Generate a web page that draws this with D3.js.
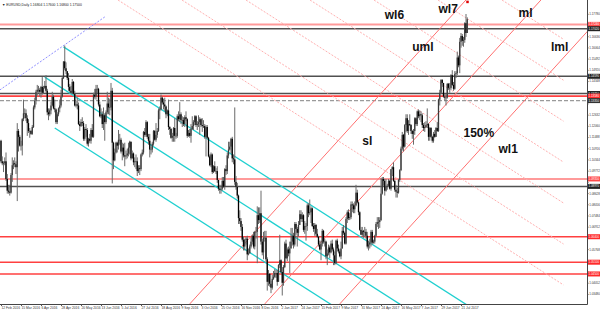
<!DOCTYPE html>
<html>
<head>
<meta charset="utf-8">
<script src="https://cdn.jsdelivr.net/npm/d3@7/dist/d3.min.js"></script>
<style>
body { margin: 0; background: #fff; }
svg { display: block; font-family: "DejaVu Sans", sans-serif; }
</style>
</head>
<body>
<div id="chart"></div>
<script>
// EURUSD daily, prices in pips above 1.0000 (1025 -> 1.1025), open = previous close
var firstOpen = 1130;
var closes = [
  1025,1015,1015,1025,935, 875,870,865,955,1005, 1015,1010,995,1180,1150, 1105,1105,1240,1270,1270,
  1245,1220,1180,1180,1165, 1200,1300,1335,1380,1390, 1390,1380,1405,1375,1400, 1410,1385,1275,1265,1285,
  1310,1355,1295,1290,1225, 1265,1295,1310,1355,1450, 1535,1500,1485,1450,1405, 1385,1375,1430,1370,1310,
  1315,1310,1215,1205,1225, 1220,1140,1190,1185,1115, 1140,1130,1185,1150,1365, 1355,1395,1395,1315,1255,
  1265,1215,1260,1225,1275, 1320,1300,1300,1385,1120, 1030,1070,1120,1105,1135, 1135,1075,1095,1055,1050,
  1055,1065,1095,1125,1040, 1065,1020,1025,1025,975, 990,985,1060,1070,1175, 1160,1225,1150,1130,1085,
  1085,1115,1180,1135,1160, 1180,1285,1290,1350,1325, 1315,1305,1265,1285,1200, 1190,1145,1155,1195,1155,
  1155,1255,1240,1265,1235, 1235,1215,1250,1240,1155, 1170,1155,1190,1205,1225, 1255,1210,1215,1225,1240,
  1210,1205,1205,1150,1200, 1145,1050,1005,1060,970, 1000,975,975,930,885, 880,885,925,895,985,
  975,1055,1085,1100,1140, 1040,1035,920,895,850, 735,720,690,625,590, 625,630,550,555,590,
  615,645,590,665,665, 750,725,760,615,560, 635,635,525,410,450, 400,380,425,435,455,
  455,410,495,520, 460,405,485,605,530, 575,555,580,615,645, 600,705,680,660,700,
  755,730,750,675,695, 695,800,760,765,785, 695,680,700,655,640, 600,575,605,670,615,
  615,540,555,585,560, 605,575,545,505,620, 580,565,540,580,670, 660,605,730,765,735,
  740,805,800,780,800, 865,815,765,675,650, 670,665,665,645,590, 600,610,665,610,615,
  645,705,715,715,725, 860,935,925,875,895, 900,925,885,985,995, 925,880,870,865,930,
  980,1090,1160,1100,1210, 1245,1180,1215,1210,1180, 1165,1180,1245,1215,1280, 1255,1265,1260,1210,1195,
  1200,1210,1215,1150,1195, 1150,1130,1165,1150,1195, 1180,1340,1375,1440,1425, 1355,1350,1350,1420,1400,
  1400,1465,1415,1395,1470, 1475,1555,1515,1635,1665, 1640,1645,1730,1680,1750
];
var highs = [
  1135,1050,1025,1045,1070, 960,905,905,965,1045, 1030,1045,1025,1220,1190, 1160,1130,1245,1340,1295,
  1290,1260,1240,1195,1185, 1210,1310,1350,1390,1415, 1410,1400,1410,1455,1410, 1435,1465,1395,1295,1295,
  1330,1380,1365,1340,1295, 1275,1300,1340,1390,1460, 1535,1616,1530,1485,1475, 1420,1410,1445,1435,1385,
  1335,1350,1325,1230,1240, 1250,1230,1200,1215,1195, 1145,1165,1195,1215,1375, 1395,1415,1415,1400,1330,
  1295,1280,1300,1270,1285, 1380,1350,1345,1425,1400, 1125,1090,1125,1125,1185, 1165,1145,1120,1115,1120,
  1080,1090,1120,1130,1125, 1080,1070,1045,1060,1045, 1005,1005,1065,1085,1180, 1195,1235,1230,1165,1165,
  1100,1125,1185,1185,1220, 1195,1295,1305,1366,1355, 1345,1350,1310,1290,1340, 1205,1195,1170,1200,1245,
  1170,1265,1280,1327,1275, 1255,1250,1260,1280,1245, 1185,1190,1215,1255,1235, 1260,1260,1230,1260,1250,
  1245,1245,1235,1215,1210, 1210,1150,1060,1070,1065, 1005,1025,990,1000,930, 905,905,945,945,990,
  1005,1070,1125,1125,1145, 1150,1060,1300,950,915, 855,775,735,705,640, 630,640,645,580,600,
  635,650,665,670,690, 795,790,790,875,630, 665,670,670,535,470, 455,415,445,465,475,
  470,470,500,650, 525,485,495,615,625, 585,590,615,685,685, 660,715,715,690,720,
  775,775,765,755,720, 710,810,810,830,795, 790,710,710,705,680, 645,620,620,680,675,
  630,620,575,600,595, 620,625,585,565,625, 630,600,575,615,690, 700,665,740,775,780,
  760,820,820,810,820, 905,880,820,770,690, 690,675,690,680,665, 620,630,675,675,625,
  650,715,740,740,740, 940,945,945,935,935, 910,935,930,985,1000, 1020,930,905,890,935,
  985,1100,1175,1165,1215, 1265,1265,1235,1265,1215, 1185,1190,1250,1250,1285, 1290,1285,1280,1270,1220,
  1225,1230,1295,1220,1200, 1200,1155,1175,1185,1200, 1225,1345,1390,1445,1445, 1425,1370,1370,1425,1425,
  1425,1470,1490,1430,1485, 1485,1585,1565,1655,1680, 1675,1660,1735,1777,1760
];
var lows = [
  1015,1005,970,1005,925, 860,860,850,860,920, 985,995,960,822,1075, 1100,1080,1055,1230,1245,
  1230,1155,1170,1145,1160, 1160,1195,1290,1315,1360, 1375,1355,1350,1365,1370, 1395,1375,1260,1235,1255,
  1265,1305,1290,1275,1215, 1215,1255,1275,1300,1350, 1445,1490,1470,1440,1385, 1375,1370,1370,1365,1305,
  1300,1290,1210,1180,1200, 1205,1130,1130,1150,1105, 1100,1120,1115,1145,1145, 1345,1340,1370,1305,1250,
  1245,1195,1185,1130,1215, 1265,1265,1260,1285,912, 985,1025,1065,1070,1085, 1110,1065,1030,1045,1000,
  1035,1040,1050,1060,1030, 1040,1005,995,985,950, 965,955,975,1050,1060, 1150,1150,1140,1110,1045,
  1060,1070,1105,1130,1125, 1145,1175,1240,1285,1315, 1290,1280,1245,1255,1185, 1160,1140,1125,1125,1125,
  1140,1145,1230,1225,1215, 1200,1205,1200,1230,1145, 1150,1145,1120,1185,1185, 1210,1200,1185,1200,1160,
  1200,1175,1195,1140,1050, 1140,1045,1000,995,960, 965,970,960,915,875, 860,860,875,890,880,
  955,960,1040,1080,1065, 1020,1010,905,880,835, 705,705,670,615,570, 570,600,520,545,555,
  580,600,580,575,630, 505,705,710,600,545, 525,615,515,365,390, 385,352,370,420,430,
  430,390,410,480, 455,340,390,480,525, 515,540,455,580,595, 580,590,650,590,640,
  700,715,715,665,655, 620,670,740,750,710, 690,665,645,645,635, 590,570,520,590,605,
  590,525,495,545,530, 555,565,495,495,500, 565,555,535,525,580, 650,600,600,710,725,
  725,730,765,760,760, 795,810,750,670,650, 640,635,640,630,580, 570,580,590,600,605,
  605,640,690,680,685, 720,855,900,850,870, 880,895,880,875,950, 920,870,840,840,860,
  920,975,1080,1075,1095, 1175,1170,1160,1205,1165, 1140,1110,1160,1205,1205, 1245,1235,1225,1195,1180,
  1175,1195,1195,1130,1130, 1145,1120,1120,1145,1150, 1175,1175,1310,1370,1405, 1350,1335,1310,1345,1390,
  1375,1390,1410,1385,1390, 1450,1465,1505,1475,1605, 1615,1610,1630,1660,1680
];

// bottom axis: one label every 16 bars
var dateLabels = ["12 Feb 2016","15 Mar 2016","6 Apr 2016","28 Apr 2016","20 May 2016","13 Jun 2016",
  "5 Jul 2016","27 Jul 2016","18 Aug 2016","9 Sep 2016","3 Oct 2016","25 Oct 2016","16 Nov 2016",
  "8 Dec 2016","2 Jan 2017","24 Jan 2017","15 Feb 2017","9 Mar 2017","31 Mar 2017","24 Apr 2017",
  "16 May 2017","7 Jun 2017","29 Jun 2017","21 Jul 2017"];
var priceTicks = [1.03480,1.04052,1.04624,1.05196,1.05768,1.06340,1.06912,1.07484,1.08056,1.08628,
  1.09200,1.09772,1.10344,1.10916,1.11488,1.12060,1.12632,1.13204,1.13776,1.14348,1.14920,1.15492,
  1.16064,1.16636,1.17208,1.17780];

// horizontal levels
var levelPrices = [1.1724, 1.1702, 1.1459, 1.1371, 1.1358, 1.1335, 1.0935, 1.0897, 1.0640, 1.0510, 1.0450];
var levelKinds  = ["pink","black","black","black","red","dash","pink","black","red","red","red"];

// trend lines [bar1, price1, bar2, price2]
var cyanLines = [[50, 1.1609, 470, 0.9895], [35, 1.1455, 470, 0.9680], [43, 1.1195, 470, 0.9455]];
var blueLines = [[-1, 1.1389, 83, 1.1762]];
var forkLines = [[151, 1.0297, 372, 1.1849], [211, 1.0297, 432, 1.1849], [271, 1.0297, 492, 1.1849]];
var warnLines = [[93.6, 1.18485, 450, 1.0394], [144.8, 1.18485, 450, 1.0603], [196, 1.18485, 450, 1.0812],
  [247.2, 1.18485, 450, 1.1021], [298.4, 1.18485, 450, 1.1230], [349.6, 1.18485, 450, 1.1439],
  [400.8, 1.18485, 450, 1.1648]];

var noteText = ["wl6", "wl7", "ml", "uml", "lml", "sl", "150%", "wl1"];
var noteBar = [307, 350, 414, 329, 440, 289, 370, 398];
var notePrice = [1.1751, 1.1782, 1.1762, 1.1588, 1.1588, 1.1108, 1.1149, 1.1067];

var W = 600, H = 313, plotR = 587, plotB = 304;
var tinyFont = "Liberation Sans, Arial, sans-serif";

var svg = d3.select("#chart").append("svg")
  .attr("width", W).attr("height", H);

var x = d3.scaleLinear().domain([0, 468.8]).range([1, plotR]);
var y = d3.scaleLinear().domain([1.0340, 1.1777]).range([295.5, 14]);
function pr(v) { return 1 + v / 10000; }

svg.append("defs").append("clipPath").attr("id", "plot")
  .append("rect").attr("width", plotR).attr("height", plotB);

var plot = svg.append("g").attr("clip-path", "url(#plot)");

// horizontal levels
var levelStyle = {
  pink:  { c: "#ff9a9a", w: 2, d: null },
  red:   { c: "#ff4040", w: 1.6, d: null },
  black: { c: "#505050", w: 1.5, d: null },
  dash:  { c: "#9a9a9a", w: 1.2, d: "4,2" }
};
plot.append("g").selectAll("line").data(levelPrices).enter().append("line")
  .attr("x1", 0).attr("x2", plotR)
  .attr("y1", function(d) { return y(d); }).attr("y2", function(d) { return y(d); })
  .attr("stroke", function(d, i) { return levelStyle[levelKinds[i]].c; })
  .attr("stroke-width", function(d, i) { return levelStyle[levelKinds[i]].w; })
  .attr("stroke-dasharray", function(d, i) { return levelStyle[levelKinds[i]].d; });

function drawLines(data, color, width, dash) {
  plot.append("g").selectAll("line").data(data).enter().append("line")
    .attr("x1", function(d) { return x(d[0]); }).attr("y1", function(d) { return y(d[1]); })
    .attr("x2", function(d) { return x(d[2]); }).attr("y2", function(d) { return y(d[3]); })
    .attr("stroke", color).attr("stroke-width", width)
    .attr("stroke-dasharray", dash);
}
drawLines(warnLines, "#ffb0b0", 1, "2,1.5");
drawLines(forkLines, "#ff7070", 1, null);
drawLines(cyanLines, "#20d0d0", 1.3, null);
drawLines(blueLines, "#9090ff", 1, "2,1.5");

// candles
var bars = closes.map(function(c, i) {
  var o = i === 0 ? firstOpen : closes[i - 1];
  return { i: i, o: pr(o), c: pr(c), h: pr(Math.max(highs[i], o, c)), l: pr(Math.min(lows[i], o, c)) };
});
var candle = plot.append("g").selectAll("g").data(bars).enter().append("g");
candle.append("line")
  .attr("x1", function(d) { return x(d.i); }).attr("x2", function(d) { return x(d.i); })
  .attr("y1", function(d) { return y(d.h); }).attr("y2", function(d) { return y(d.l); })
  .attr("stroke", "#6a6a6a").attr("stroke-width", 1);
candle.append("rect")
  .attr("x", function(d) { return x(d.i) - 0.65; })
  .attr("width", 1.3)
  .attr("y", function(d) { return y(Math.max(d.o, d.c)); })
  .attr("height", function(d) { return Math.max(0.6, Math.abs(y(d.o) - y(d.c))); })
  .attr("fill", function(d) { return d.c < d.o ? "#000" : "#3a3a3a"; });

// marker above last bar
plot.append("rect")
  .attr("x", x(bars.length - 1) - 1).attr("y", y(1.1840) - 1)
  .attr("width", 2.5).attr("height", 2.5).attr("fill", "#e00000");

// text notes
svg.append("g").selectAll("text").data(noteText).enter().append("text")
  .attr("x", function(d, i) { return x(noteBar[i]); })
  .attr("y", function(d, i) { return y(notePrice[i]); })
  .attr("font-family", "Liberation Sans, Arial, sans-serif")
  .attr("font-weight", "bold").attr("font-size", 12)
  .attr("fill", "#111").text(function(d) { return d; });

// header
svg.append("text").attr("x", 2).attr("y", 6).attr("font-size", 3.4).attr("fill", "#222")
  .attr("font-family", tinyFont)
  .text("\u25BC EURUSD,Daily  1.16804 1.17600 1.16800 1.17500");

// axes frame
svg.append("line").attr("x1", plotR + 0.5).attr("x2", plotR + 0.5).attr("y1", 0).attr("y2", plotB + 0.5)
  .attr("stroke", "#444").attr("stroke-width", 1);
svg.append("line").attr("x1", 0).attr("x2", plotR + 0.5).attr("y1", plotB + 0.5).attr("y2", plotB + 0.5)
  .attr("stroke", "#444").attr("stroke-width", 1);

// price axis, labels hidden where a level tag sits
var tagY = levelPrices.map(function(p) { return y(p); });
var yAxis = d3.axisRight(y).tickValues(priceTicks).tickSize(1).tickPadding(0.8)
  .tickFormat(function(d) { return d.toFixed(5); });
var ya = svg.append("g").attr("transform", "translate(" + (plotR + 0.5) + ",0)").call(yAxis);
ya.select(".domain").remove();
ya.selectAll("text").attr("font-size", 2.9).attr("fill", "#333").attr("font-family", tinyFont)
  .style("display", function(d) {
    var ty = y(d);
    return tagY.some(function(t) { return Math.abs(t - ty) < 4.5; }) || ty < 3 ? "none" : null;
  });
ya.selectAll("line").attr("stroke", "#555");

// level tags on price axis
var tagColor = { pink: "#ff4a4a", red: "#ff2a2a", black: "#222", dash: "#333" };
var tags = svg.append("g").selectAll("g").data(levelPrices).enter().append("g")
  .attr("transform", function(d) { return "translate(" + (plotR + 1) + "," + y(d) + ")"; });
tags.append("rect").attr("x", 0).attr("y", -2.5).attr("width", 12).attr("height", 5)
  .attr("fill", function(d, i) { return tagColor[levelKinds[i]]; });
tags.append("text").attr("x", 0.6).attr("y", 1.1).attr("font-size", 2.9).attr("fill", "#fff")
  .attr("font-family", tinyFont)
  .text(function(d) { return d.toFixed(5); });

// date axis
var xAxis = d3.axisBottom(x).tickValues(d3.range(dateLabels.length).map(function(k) { return k * 16; }))
  .tickSize(1.5).tickPadding(1)
  .tickFormat(function(d) { return dateLabels[d / 16]; });
var xa = svg.append("g").attr("transform", "translate(0," + (plotB + 0.5) + ")").call(xAxis);
xa.select(".domain").remove();
xa.selectAll("text").attr("font-size", 3.3).attr("fill", "#333").attr("text-anchor", "start")
  .attr("font-family", tinyFont);
xa.selectAll("line").attr("stroke", "#555");
</script>
</body>
</html>
